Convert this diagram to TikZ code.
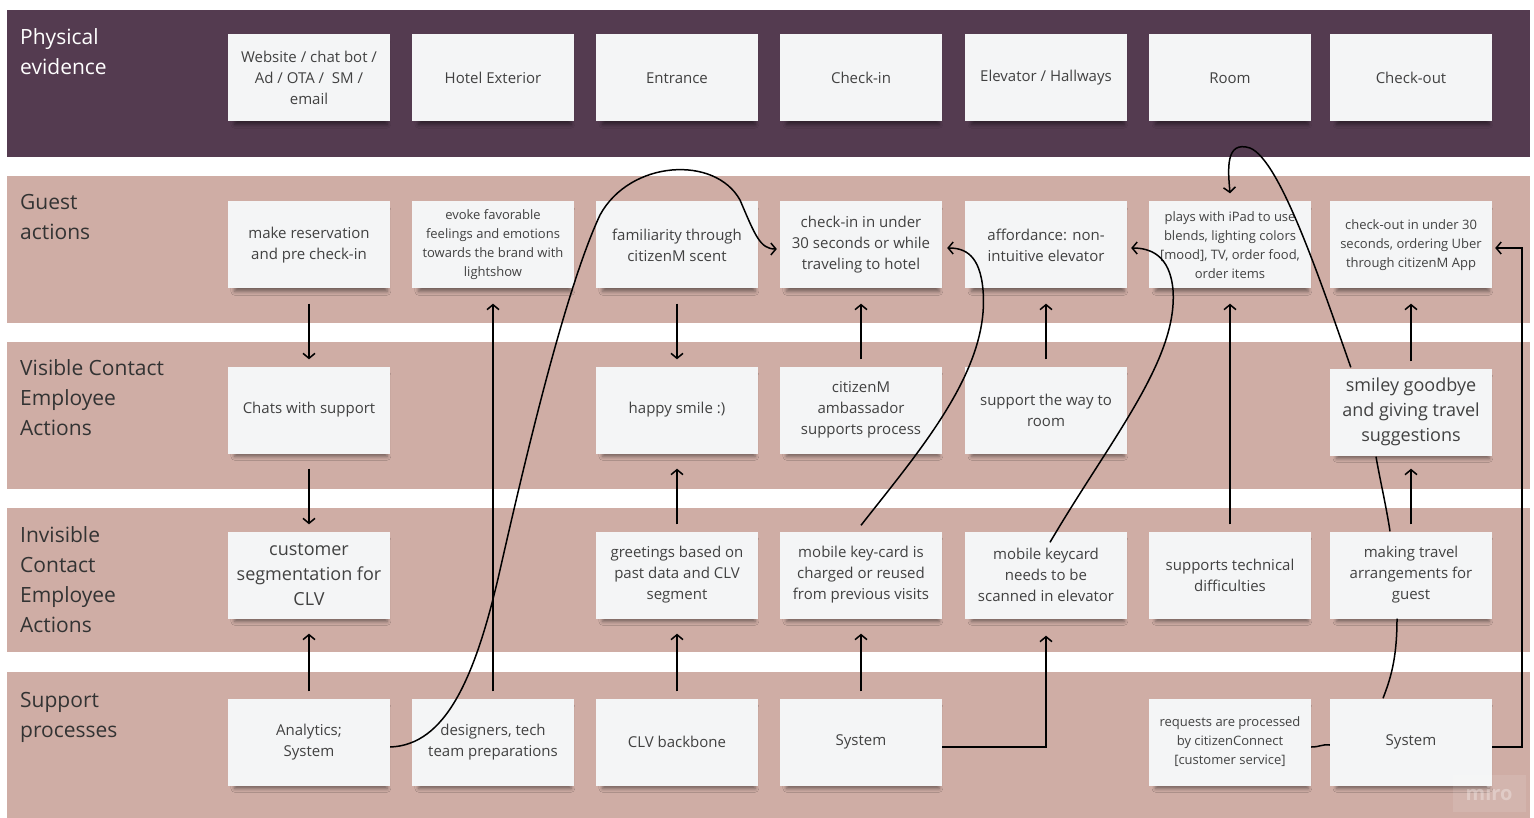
\documentclass[tikz,border=0pt]{standalone}
\usepackage{fontspec}
\setmainfont{Open Sans}
\usetikzlibrary{arrows.meta,shadows.blur}
\definecolor{evidence}{HTML}{543B50}
\definecolor{lanepink}{HTML}{CFADA5}
\definecolor{notefill}{HTML}{F4F5F6}
\definecolor{notetext}{HTML}{414141}
\definecolor{lanetext}{HTML}{333333}
\tikzset{
  lane/.style={fill=lanepink},
  lanetitle/.style={anchor=north west, align=left, inner sep=0pt, text=lanetext,
    font=\fontsize{21}{30}\selectfont},
  note/.style={fill=notefill, minimum width=162pt, minimum height=87pt, inner sep=2pt,
    align=center, text=notetext, font=\fontsize{15}{21}\selectfont,
    blur shadow={shadow xshift=2pt, shadow yshift=-6pt, shadow blur radius=4pt,
      shadow opacity=45, shadow scale=0.94}},
  smalltext/.style={font=\fontsize{13}{19}\selectfont},
  bigtext/.style={font=\fontsize{18}{25}\selectfont},
  flow/.style={line width=1.5pt, -{Straight Barb[length=5pt,width=12pt]}},
  tie/.style={line width=1.5pt},
}
\begin{document}
\begin{tikzpicture}[x=1pt,y=-1pt]
\useasboundingbox (0,0) rectangle (1534,818);
\fill[white] (0,0) rectangle (1534,818);
% lanes
\fill[evidence] (7,10) rectangle (1530,157);
\fill[lane] (7,176) rectangle (1530,323);
\fill[lane] (7,342) rectangle (1530,489);
\fill[lane] (7,508) rectangle (1530,652);
\fill[lane] (7,672) rectangle (1530,818);
\node[lanetitle, text=white] (tevidence) at (20,28) {Physical\\evidence};
\node[lanetitle] (tguest) at (20,194) {Guest\\actions};
\node[lanetitle] (tvisible) at (20,359) {Visible Contact\\Employee\\Actions};
\node[lanetitle] (tinvisible) at (20,526) {Invisible\\Contact\\Employee\\Actions};
\node[lanetitle] (tsupport) at (20,692) {Support\\processes};

% physical evidence
\node[note] (web) at (309,78) {Website / chat bot /\\Ad / OTA /\ \ SM /\\email};
\node[note] (exterior) at (493,78) {Hotel Exterior};
\node[note] (entrance) at (677,78) {Entrance};
\node[note] (checkin) at (861,78) {Check-in};
\node[note] (elevator) at (1046,78) {Elevator / Hallways};
\node[note] (room) at (1230,78) {Room};
\node[note] (checkout) at (1411,78) {Check-out};

% guest actions
\node[note] (reserve) at (309,245) {make reservation\\and pre check-in};
\node[note, smalltext] (evoke) at (493,245) {evoke favorable\\feelings and emotions\\towards the brand with\\lightshow};
\node[note] (scent) at (677,245) {familiarity through\\citizenM scent};
\node[note] (quickin) at (861,245) {check-in in under\\30 seconds or while\\traveling to hotel};
\node[note] (afford) at (1046,245) {affordance: non-\\intuitive elevator};
\node[note, smalltext] (ipad) at (1230,245) {plays with iPad to use\\blends, lighting colors\\{[mood]}, TV, order food,\\order items};
\node[note, smalltext] (quickout) at (1411,245) {check-out in under 30\\seconds, ordering Uber\\through citizenM App};

% visible contact employee actions
\node[note] (chats) at (309,410) {Chats with support};
\node[note] (smile) at (677,410) {happy smile :)};
\node[note] (ambass) at (861,410) {citizenM\\ambassador\\supports process};
\node[note] (wayroom) at (1046,410) {support the way to\\room};
\node[note, bigtext] (goodbye) at (1411,412) {smiley goodbye\\and giving travel\\suggestions};

% invisible contact employee actions
\node[note, bigtext] (segment) at (309,575) {customer\\segmentation for\\CLV};
\node[note] (greet) at (677,575) {greetings based on\\past data and CLV\\segment};
\node[note] (keycard) at (861,575) {mobile key-card is\\charged or reused\\from previous visits};
\node[note] (scankey) at (1046,575) {mobile keycard\\needs to be\\scanned in elevator};
\node[note] (techsup) at (1230,575) {supports technical\\difficulties};
\node[note] (travel) at (1411,575) {making travel\\arrangements for\\guest};

% support processes
\node[note] (analytics) at (309,742) {Analytics;\\System};
\node[note] (designers) at (493,742) {designers, tech\\team preparations};
\node[note] (clvbb) at (677,742) {CLV backbone};
\node[note] (system) at (861,742) {System};
\node[note, smalltext] (requests) at (1230,742) {requests are processed\\by citizenConnect\\{[customer service]}};
\node[note] (sysout) at (1411,742) {System};
\node[fill=white, fill opacity=0.1, text=white, text opacity=0.3, minimum width=73pt,
  minimum height=37pt, font=\bfseries\fontsize{20}{20}\selectfont] (miro) at (1489,793) {miro};

% reservation
\draw[flow] ([yshift=-15pt]reserve.south) -- ([yshift=7pt]chats.north);
\draw[flow] ([yshift=-15pt]chats.south) -- ([yshift=7pt]segment.north);
\draw[flow] ([yshift=7pt]analytics.north) -- ([yshift=-15pt]segment.south);
\draw[flow] ([yshift=-5pt]analytics.east) .. controls (445,745) and (475,680) .. (500,570)
  .. controls (525,460) and (565,290) .. (600,215) .. controls (630,160) and (715,155) .. (740,200)
  .. controls (755,235) and (760,249) .. ([xshift=-3pt,yshift=-4pt]quickin.west);
% lightshow and scent
\draw[flow] ([yshift=7pt]designers.north) -- ([yshift=-15pt]evoke.south);
\draw[flow] ([yshift=-15pt]scent.south) -- ([yshift=7pt]smile.north);
\draw[flow] ([yshift=7pt]greet.north) -- ([yshift=-15pt]smile.south);
\draw[flow] ([yshift=7pt]clvbb.north) -- ([yshift=-15pt]greet.south);
% check-in
\draw[flow] ([yshift=7pt]ambass.north) -- ([yshift=-15pt]quickin.south);
\draw[flow] ([yshift=7pt]system.north) -- ([yshift=-15pt]keycard.south);
\draw[flow] ([yshift=6pt]keycard.north) .. controls (920,450) and (990,370) .. (983,290)
  .. controls (980,255) and (965,248) .. ([xshift=5pt,yshift=-3pt]quickin.east);
% elevator
\draw[flow] ([yshift=7pt]wayroom.north) -- ([yshift=-15pt]afford.south);
\draw[flow] ([yshift=-5pt]system.east) -| ([yshift=-17pt]scankey.south);
\draw[flow] ([xshift=4pt,yshift=-11pt]scankey.north) .. controls (1110,440) and (1178,360) .. (1173,290)
  .. controls (1170,255) and (1150,248) .. ([xshift=4pt,yshift=-3pt]afford.east);
% room
\draw[flow] ([yshift=7pt]techsup.north) -- ([yshift=-15pt]ipad.south);
\draw[flow] ([xshift=21pt,yshift=1pt]goodbye.north west) .. controls (1320,280) and (1280,160) .. (1250,148)
  .. controls (1225,140) and (1228,170) .. ([yshift=8pt]ipad.north);
% check-out
\draw[flow] ([yshift=7pt]goodbye.north) -- ([yshift=-15pt]quickout.south);
\draw[flow] ([yshift=7pt]travel.north) -- ([yshift=-13pt]goodbye.south);
\draw[tie] ([xshift=-21pt]travel.north) .. controls (1386,505) and (1380,480) .. ([xshift=-35pt,yshift=-1pt]goodbye.south);
\draw[tie] ([xshift=-14pt]travel.south) .. controls (1397,660) and (1390,680) .. ([xshift=-28pt]sysout.north);
\draw[tie] ([yshift=-5pt]requests.east) .. controls (1320,747) and (1322,744) .. ([yshift=-3pt]sysout.west);
\draw[flow] ([yshift=-5pt]sysout.east) -- ++(30,0) |- ([xshift=3pt,yshift=-3pt]quickout.east);
\end{tikzpicture}
\end{document}
